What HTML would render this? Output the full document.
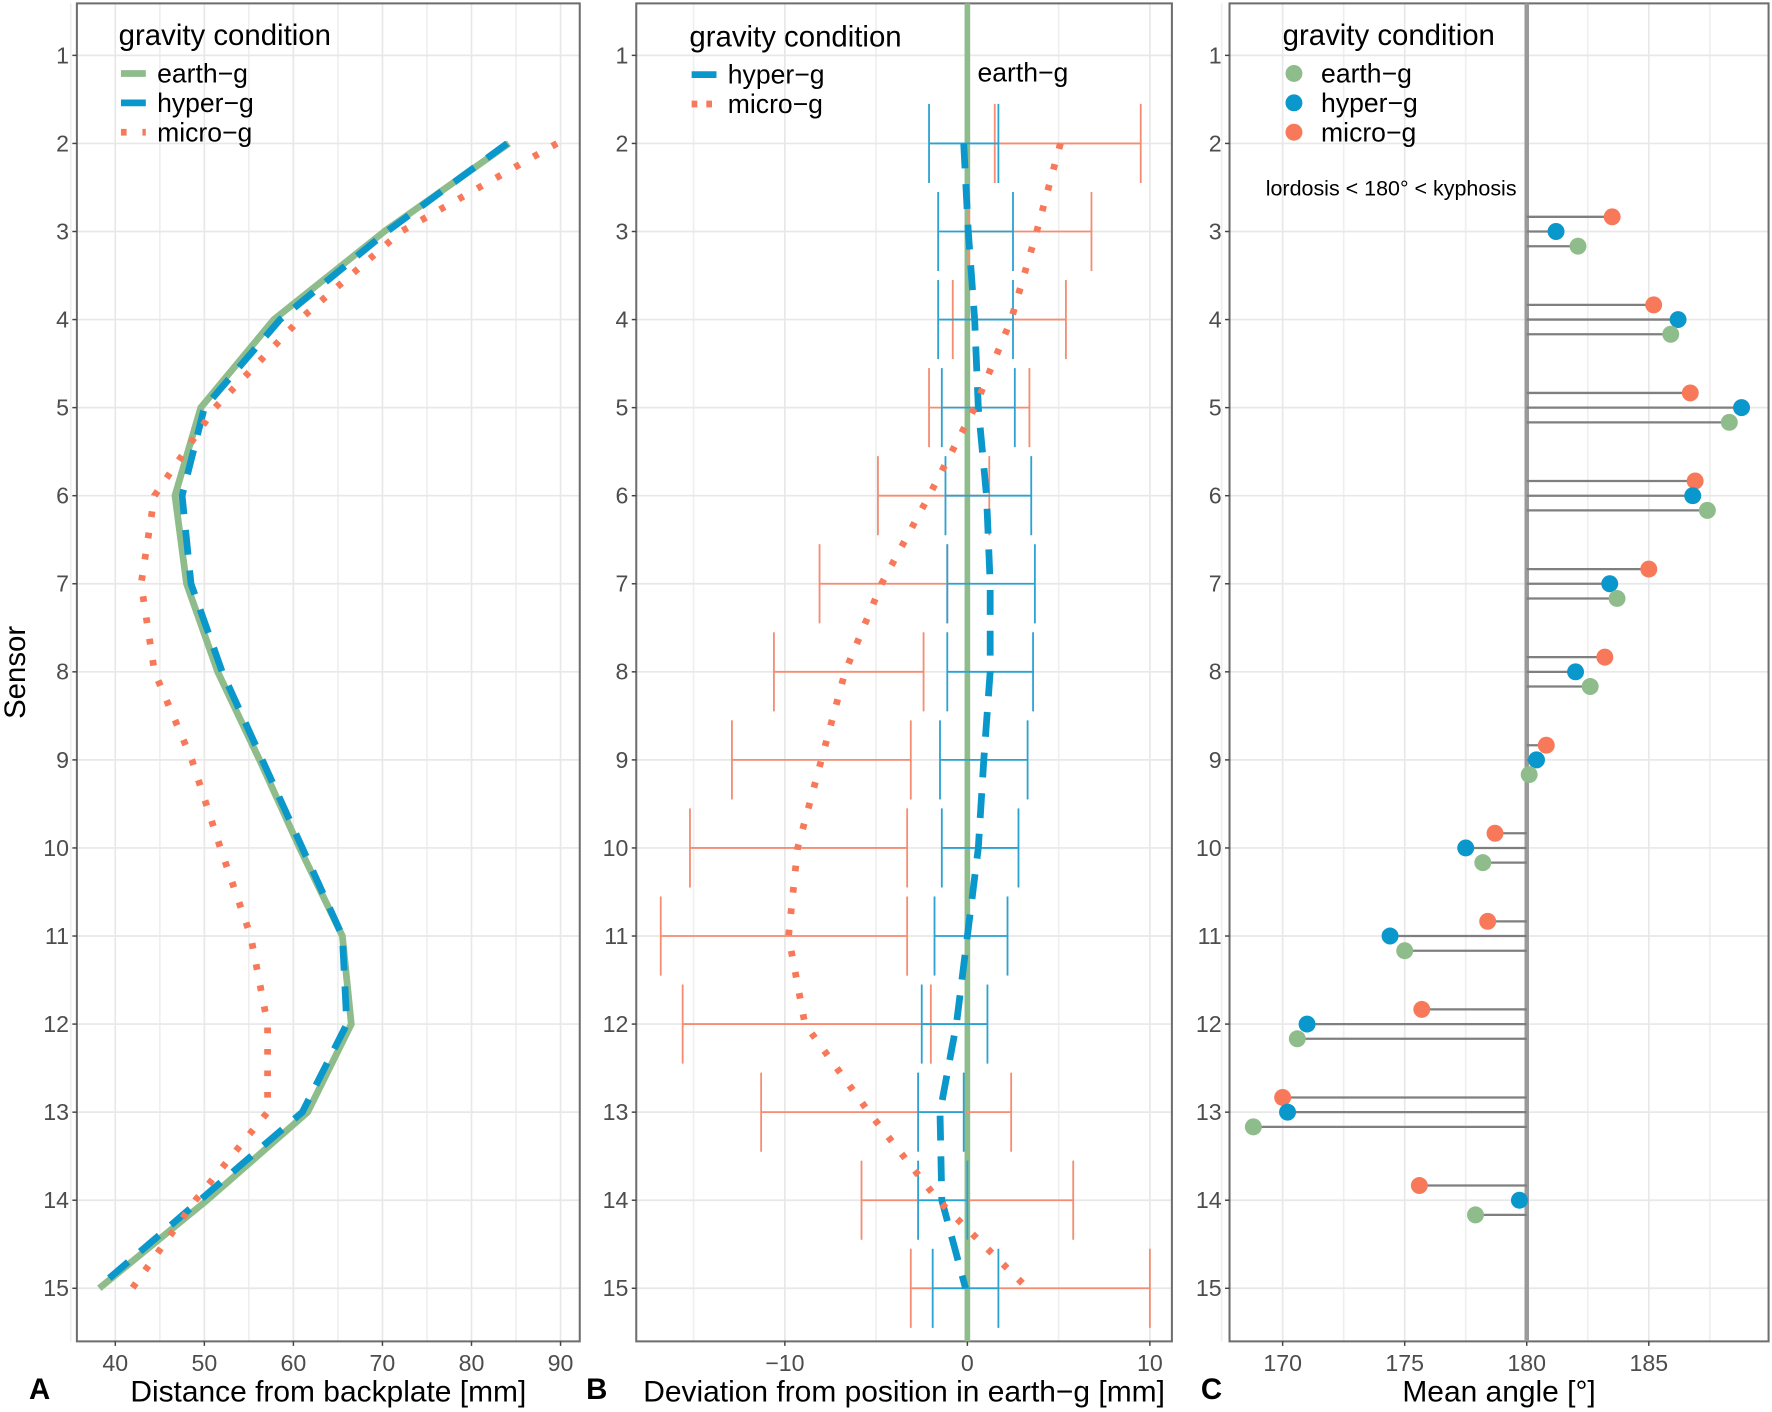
<!DOCTYPE html>
<html><head><meta charset="utf-8"><style>
html,body{margin:0;padding:0;background:#fff;}
svg{display:block;font-family:"Liberation Sans",Arial,sans-serif;}
</style></head><body>
<svg id="chart" width="1772" height="1412" viewBox="0 0 1568 1249.5" xmlns="http://www.w3.org/2000/svg">
<rect x="0" y="0" width="1568" height="1250" fill="#fff"/>
</svg>
<script>
// ---------- data ----------
const sensors = [1,2,3,4,5,6,7,8,9,10,11,12,13,14,15];
const distSensors = [2,3,4,5,6,7,8,9,10,11,12,13,14,15];
const distEarth = [84.2,70.2,57.8,49.6,46.7,48,51.5,56.2,60.7,65.5,66.5,61.6,50.3,38.2];
const distHyper = [84,70.5,58.5,50,47.5,48.5,52,56.5,61,65.5,66,61,49.5,38];
const distMicro = [89.6,72.1,60.7,51.2,44.4,42.9,44.4,48.6,51.8,55.2,57.1,57.1,49,41.9];
const devHyper = [-0.2,0.05,0.4,0.6,1.05,1.25,1.25,0.9,0.6,0,-0.6,-1.5,-1.4,-0.1];
const devHyperLo = [-2.1,-1.6,-1.6,-1.4,-1.2,-1.1,-1.1,-1.5,-1.4,-1.8,-2.5,-2.7,-2.7,-1.9];
const devHyperHi = [1.7,2.5,2.5,2.6,3.5,3.7,3.6,3.3,2.8,2.2,1.1,-0.2,0,1.7];
const devMicro = [5.1,3.8,2.4,0.4,-2.1,-4.7,-6.7,-8.0,-9.3,-9.8,-8.9,-5.4,-1.6,3.3];
const devMicroLo = [1.5,0.1,-0.8,-2.1,-4.9,-8.1,-10.6,-12.9,-15.2,-16.8,-15.6,-11.3,-5.8,-3.1];
const devMicroHi = [9.5,6.8,5.4,3.4,1.2,-1.1,-2.4,-3.1,-3.3,-3.3,-2,2.4,5.8,10];
const angSensors = [3,4,5,6,7,8,9,10,11,12,13,14];
const angMicro = [183.5,185.2,186.7,186.9,185.0,183.2,180.8,178.7,178.4,175.7,170.0,175.6];
const angHyper = [181.2,186.2,188.8,186.8,183.4,182.0,180.4,177.5,174.4,171.0,170.2,179.7];
const angEarth = [182.1,185.9,188.3,187.4,183.7,182.6,180.1,178.2,175.0,170.6,168.8,177.9];
const ticksA = [40,50,60,70,80,90];
const ticksB = [-10,0,10];
const ticksC = [170,175,180,185];

const GREEN='#8fbc8b', BLUE='#0a97cb', RED='#f8795a';
const NS='http://www.w3.org/2000/svg';
const svg=document.getElementById('chart');
function el(tag,attrs,parent){const e=document.createElementNS(NS,tag);for(const k in attrs)e.setAttribute(k,attrs[k]);(parent||svg).appendChild(e);return e;}
function txt(s,attrs,parent){const e=el('text',attrs,parent);e.textContent=s;return e;}

const yS = s => 49 + (s-1)*77.93;
const PT=3, PB=1187;
const xA = v => 102 + (v-40)*7.88;
const xB = v => 856 + v*16.15;
const xC = v => 1351 + (v-180)*21.6;

function panel(name,x0,x1,xf,minor,major,title,letter,lx){
  const g=el('g',{});  
  minor.forEach(v=>{const l=el('line',{x1:xf(v),x2:xf(v),y1:PT,y2:PB,stroke:'#efefef','stroke-width':1.5},g);});
  major.forEach(v=>{const l=el('line',{x1:xf(v),x2:xf(v),y1:PT,y2:PB,stroke:'#e8e8e8','stroke-width':1.5},g);});
  sensors.forEach(s=>{const l=el('line',{x1:x0,x2:x1,y1:yS(s),y2:yS(s),stroke:'#e8e8e8','stroke-width':1.5},g);});
  const b=el('rect',{x:x0,y:PT,width:x1-x0,height:PB-PT,fill:'none',stroke:'#6e6e6e','stroke-width':1.8},g);
  
  sensors.forEach(s=>{el('line',{x1:x0-4,x2:x0,y1:yS(s),y2:yS(s),stroke:'#444','stroke-width':1.3},g);
    const t=txt(String(s),{x:x0-7,y:yS(s)+7,'text-anchor':'end','font-size':20.5,fill:'#4d4d4d'},g);});
  major.forEach(v=>{el('line',{x1:xf(v),x2:xf(v),y1:PB,y2:PB+4,stroke:'#444','stroke-width':1.3},g);
    const t=txt(v<0?'\u2212'+(-v):String(v),{x:xf(v),y:PB+26,'text-anchor':'middle','font-size':20.5,fill:'#4d4d4d'},g);});
  const at=txt(title,{x:(x0+x1)/2,y:1240,'text-anchor':'middle','font-size':26.5,fill:'#000'},g);
  const lt=txt(letter,{x:lx,y:1238,'text-anchor':'middle','font-size':26,'font-weight':'bold',fill:'#000'},g);
  return g;
}
function poly(g,xs,ys,attrs,name){const p=el('polyline',Object.assign({points:xs.map((x,i)=>x+','+ys[i]).join(' '),fill:'none'},attrs),g);return p;}

// Panel A
const gA=panel('distance',68,513,xA,[35,45,55,65,75,85],ticksA,'Distance from backplate [mm]','A',35);
poly(gA,distEarth.map(xA),distSensors.map(yS),{stroke:GREEN,'stroke-width':6},'earth-g-line');
poly(gA,distHyper.map(xA),distSensors.map(yS),{stroke:BLUE,'stroke-width':6,'stroke-dasharray':'22 14'},'hyper-g-line');
poly(gA,distMicro.map(xA),distSensors.map(yS),{stroke:RED,'stroke-width':6,'stroke-dasharray':'5 14'},'micro-g-line');
const sen=txt('Sensor',{x:22,y:595,'text-anchor':'middle','font-size':26,transform:'rotate(-90 22 595)'});

function legend(g,x,y,type){
  const lg=el('g',{},g);
  const t=txt('gravity condition',{x:x,y:y,'font-size':26},lg);
  const ents=type==='B'?[['hyper\u2212g',BLUE,'22 14'],['micro\u2212g',RED,'5 8']]:[['earth\u2212g',GREEN,''],['hyper\u2212g',BLUE,'22 14'],['micro\u2212g',RED,'5 14']];
  ents.forEach((e,i)=>{const yy=y+33+i*26;
    const eg=el('g',{},lg);
    if(type==='C'){el('circle',{cx:x+10,cy:yy-8,r:7.5,fill:e[1]},eg);}
    else el('line',{x1:x+2,x2:x+24,y1:yy-8,y2:yy-8,stroke:e[1],'stroke-width':6,'stroke-dasharray':e[2]||'none'},eg);
    txt(e[0],{x:x+34,y:yy,'font-size':23.5},eg);});
}
legend(gA,105,40,'A');

// Panel B
const gB=panel('deviation',563,1037,xB,[-15,-5,5],ticksB,'Deviation from position in earth\u2212g [mm]','B',528);
const zl=el('line',{x1:xB(0),x2:xB(0),y1:PT,y2:PB,stroke:GREEN,'stroke-width':5},gB);
const el2=txt('earth\u2212g',{x:865,y:72,'font-size':23.5},gB);
function errbars(lo,hi,col,name){distSensors.forEach((s,i)=>{const y=yS(s);const eg=el('g',{stroke:col,'stroke-width':1.6},gB);
  
  el('line',{x1:xB(lo[i]),x2:xB(hi[i]),y1:y,y2:y},eg);
  el('line',{x1:xB(lo[i]),x2:xB(lo[i]),y1:y-35,y2:y+35},eg);
  el('line',{x1:xB(hi[i]),x2:xB(hi[i]),y1:y-35,y2:y+35},eg);});}
errbars(devMicroLo,devMicroHi,'#f58d72','micro-g-error-bar');
errbars(devHyperLo,devHyperHi,'#2aa3d3','hyper-g-error-bar');
poly(gB,devHyper.map(xB),distSensors.map(yS),{stroke:BLUE,'stroke-width':6,'stroke-dasharray':'22 14'},'hyper-g-deviation-line');
poly(gB,devMicro.map(xB),distSensors.map(yS),{stroke:RED,'stroke-width':6,'stroke-dasharray':'5 14'},'micro-g-deviation-line');
legend(gB,610,41,'B');

// Panel C
const gC=panel('angle',1088,1565,xC,[167.5,172.5,177.5,182.5,187.5],ticksC,'Mean angle [\u00b0]','C',1072);
const rl=el('line',{x1:xC(180),x2:xC(180),y1:PT,y2:PB,stroke:'#9a9a9a','stroke-width':4},gC);
const ann=txt('lordosis < 180\u00b0 < kyphosis',{x:1231,y:173,'text-anchor':'middle','font-size':19},gC);
function lolli(vals,off,col,name){angSensors.forEach((s,i)=>{const y=yS(s)+off;const lg=el('g',{},gC);
  
  el('line',{x1:xC(180),x2:xC(vals[i]),y1:y,y2:y,stroke:'#7f7f7f','stroke-width':2},lg);
  el('circle',{cx:xC(vals[i]),cy:y,r:7.5,fill:col},lg);});}
lolli(angMicro,-13,RED,'micro-g-lollipop');
lolli(angHyper,0,BLUE,'hyper-g-lollipop');
lolli(angEarth,13,GREEN,'earth-g-lollipop');
legend(gC,1135,40,'C');
</script>
</body></html>
